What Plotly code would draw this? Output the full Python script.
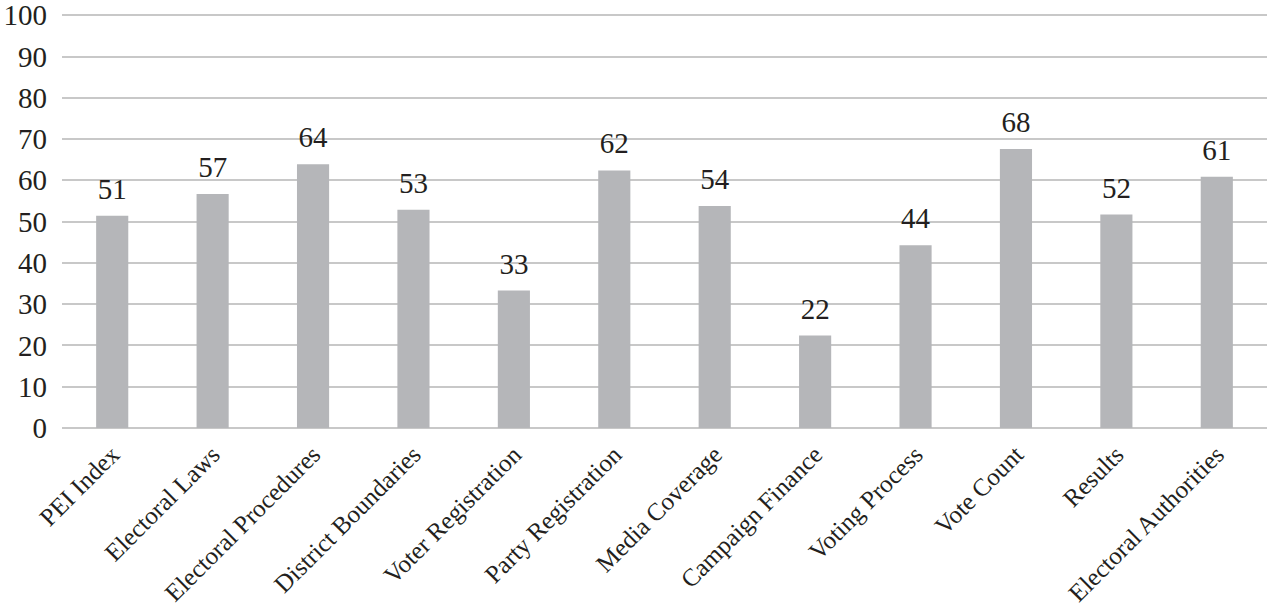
import plotly.graph_objects as go

# Categories and scores
categories = ['PEI Index', 'Electoral Laws', 'Electoral Procedures', 'District Boundaries',
              'Voter Registration', 'Party Registration', 'Media Coverage', 'Campaign Finance',
              'Voting Process', 'Vote Count', 'Results', 'Electoral Authorities']
scores = [51.4, 56.7, 63.9, 52.9, 33.3, 62.4, 53.8, 22.4, 44.3, 67.6, 51.7, 60.9]
score_labels = [51, 57, 64, 53, 33, 62, 54, 22, 44, 68, 52, 61]

serif = 'Liberation Serif, Times New Roman, serif'

bars = go.Bar(x=categories, y=scores, marker=dict(color='#b5b6b9', line=dict(width=0)),
              hoverinfo='skip')

# value labels sitting a little above each bar
labels = go.Scatter(x=categories, y=scores, text=score_labels, mode='markers+text',
                    textposition='top center', marker=dict(size=14, opacity=0),
                    textfont=dict(family=serif, size=29, color='#231f20'),
                    cliponaxis=False, hoverinfo='skip')

layout = go.Layout(width=1267, height=609, showlegend=False,
                   plot_bgcolor='white', paper_bgcolor='white',
                   margin=dict(l=62, r=0, t=14, b=181),
                   bargap=0.68,
                   font=dict(family=serif, color='#231f20'),
                   xaxis=dict(range=[-0.5, len(categories) - 0.5],
                              tickangle=-45, tickfont=dict(size=25), showgrid=False,
                              showline=False, ticks='', automargin=False,
                              ticklabelstandoff=6),
                   yaxis=dict(range=[0, 100.3], tickvals=list(range(0, 101, 10)),
                              tickfont=dict(size=29), automargin=False,
                              ticklabeloverflow='allow',
                              showgrid=True, gridcolor='#c8c8c8', gridwidth=2,
                              zeroline=True, zerolinecolor='#c8c8c8', zerolinewidth=2,
                              ticks='', ticklabelstandoff=14))

fig = go.Figure(data=[bars, labels], layout=layout)
# drop the default page margin so the figure fills the window
fig.write_html('out.html', config={'displayModeBar': False},
               post_script="document.body.style.margin='0';")
